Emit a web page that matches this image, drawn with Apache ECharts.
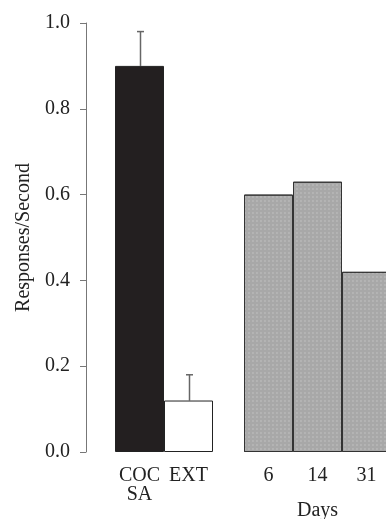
<!DOCTYPE html>
<html>
<head>
<meta charset="utf-8">
<script src="https://cdn.jsdelivr.net/npm/echarts@6/dist/echarts.min.js"></script>
<style>html,body{margin:0;padding:0;background:#fff;overflow:hidden}#c{width:400px;height:519px}</style>
</head>
<body>
<div id="c"></div>
<script>
// Data
var leftCategories = ['COC\nSA', 'EXT'];
var leftValues = [0.90, 0.12];
var leftErrors = [0.98, 0.18]; // top of error bar
var dayCategories = ['6', '14', '31'];
var dayValues = [0.60, 0.63, 0.42];
var yTicks = [0.0, 0.2, 0.4, 0.6, 0.8, 1.0];

var FONT = '"Liberation Serif", "DejaVu Serif", serif';
var FS = 20;
var chart = echarts.init(document.getElementById('c'), null, {renderer: 'canvas'});

var leftColors = ['#231f20', '#ffffff'];

var option = {
  animation: false,
  backgroundColor: '#fff',
  textStyle: {fontFamily: FONT},
  grid: [
    {left: 115, width: 98, top: 23, bottom: 67, containLabel: false, outerBoundsMode: 'none'},
    {left: 244, width: 147, top: 23, bottom: 67, containLabel: false, outerBoundsMode: 'none'}
  ],
  xAxis: [
    {
      type: 'category', gridIndex: 0, data: leftCategories,
      axisLine: {show: false}, axisTick: {show: false},
      axisLabel: {interval: 0, hideOverlap: false, fontFamily: FONT, fontSize: FS, color: '#222', margin: 14, lineHeight: 19}
    },
    {
      type: 'category', gridIndex: 1, data: dayCategories,
      name: 'Days', nameLocation: 'middle', nameGap: 49,
      nameTextStyle: {fontFamily: FONT, fontSize: FS, color: '#222'},
      axisLine: {show: false}, axisTick: {show: false},
      axisLabel: {interval: 0, fontFamily: FONT, fontSize: FS, color: '#222', margin: 14}
    }
  ],
  yAxis: [
    {
      type: 'value', gridIndex: 0, min: 0, max: 1, interval: 0.2, offset: 29,
      name: 'Responses/Second', nameLocation: 'middle', nameGap: 52,
      nameTextStyle: {fontFamily: FONT, fontSize: FS, color: '#222'},
      axisLine: {show: true, lineStyle: {color: '#777', width: 1}},
      axisTick: {show: true, length: 6, lineStyle: {color: '#777'}},
      splitLine: {show: false},
      axisLabel: {fontFamily: FONT, fontSize: FS, color: '#222', margin: 16,
        formatter: function (v) { return v.toFixed(1); }}
    },
    {
      type: 'value', gridIndex: 1, min: 0, max: 1, interval: 0.2, show: false
    }
  ],
  series: [
    {
      type: 'bar', xAxisIndex: 0, yAxisIndex: 0, barCategoryGap: '0%',
      data: leftValues.map(function (v, i) {
        return {value: v, itemStyle: {color: leftColors[i]}};
      }),
      itemStyle: {borderColor: '#222', borderWidth: 1}
    },
    {
      type: 'custom', xAxisIndex: 0, yAxisIndex: 0, z: 1,
      data: leftValues.map(function (v, i) { return [i, v, leftErrors[i]]; }),
      renderItem: function (params, api) {
        var x = api.value(0);
        var base = api.coord([x, api.value(1)]);
        var top = api.coord([x, api.value(2)]);
        var cx = Math.round(base[0]) + 0.5;
        return {
          type: 'group',
          children: [
            {type: 'line', shape: {x1: cx, y1: base[1], x2: cx, y2: top[1]}, style: {stroke: '#666', lineWidth: 1.5}},
            {type: 'line', shape: {x1: cx - 3.5, y1: top[1], x2: cx + 3.5, y2: top[1]}, style: {stroke: '#666', lineWidth: 1.5}}
          ]
        };
      }
    },
    {
      type: 'bar', xAxisIndex: 1, yAxisIndex: 1, barCategoryGap: '0%',
      data: dayValues,
      itemStyle: {
        color: '#a8a8a8', borderColor: '#333', borderWidth: 1,
        decal: {symbol: 'rect', symbolSize: 0.6, color: 'rgba(255,255,255,0.45)', dashArrayX: [2, 2], dashArrayY: [2, 2], rotation: 0}
      }
    }
  ]
};
chart.setOption(option);
</script>
</body>
</html>
